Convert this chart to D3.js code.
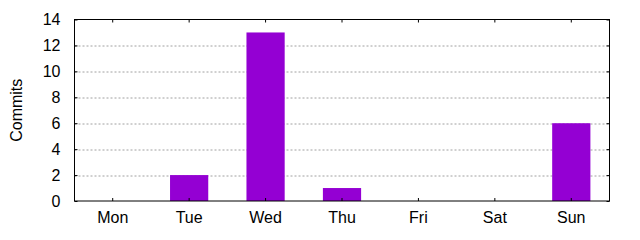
<!DOCTYPE html>
<html>
<head>
<meta charset="utf-8">
<script src="https://d3js.org/d3.v7.min.js"></script>
<style>
  body { margin: 0; background: #fff; }
  svg { display: block; font-family: "Liberation Sans", Arial, sans-serif; }
</style>
</head>
<body>
<div id="chart"></div>
<script>
// commits per weekday
const days = ["Mon", "Tue", "Wed", "Thu", "Fri", "Sat", "Sun"];
const commits = [0, 2, 13, 1, 0, 0, 6];
const yTicks = [0, 2, 4, 6, 8, 10, 12, 14];

const width = 640;
const height = 240;
const margin = {top: 19.5, right: 30.5, bottom: 39, left: 74.5};
const w = width - margin.left - margin.right;
const h = height - margin.top - margin.bottom;

const svg = d3.select("#chart")
  .append("svg")
  .attr("width", width)
  .attr("height", height);

const g = svg.append("g")
  .attr("transform", "translate(" + margin.left + "," + margin.top + ")");

const x = d3.scaleBand()
  .domain(days)
  .range([0, w]);

const y = d3.scaleLinear()
  .domain([0, 14])
  .range([h, 0]);

// grid
g.append("g")
  .selectAll("line")
  .data(yTicks.filter(d => d > 0 && d < 14))
  .enter()
  .append("line")
  .attr("x1", 0)
  .attr("x2", w)
  .attr("y1", d => Math.round(y(d)) + 0.5)
  .attr("y2", d => Math.round(y(d)) + 0.5)
  .attr("stroke", "#a0a0a0")
  .attr("stroke-dasharray", "2,2");

// bars
g.append("g")
  .selectAll("rect")
  .data(days)
  .enter()
  .append("rect")
  .attr("x", d => x(d) + x.bandwidth() / 4)
  .attr("width", x.bandwidth() / 2)
  .attr("y", (d, i) => y(commits[i]))
  .attr("height", (d, i) => h - y(commits[i]))
  .style("fill", "#9400d3");

// axes
g.append("g")
  .attr("transform", "translate(0," + h + ")")
  .call(d3.axisBottom(x).tickSize(-3).tickPadding(11));

g.append("g")
  .call(d3.axisLeft(y).tickValues(yTicks).tickSize(-3).tickPadding(14));

g.append("g")
  .call(d3.axisTop(x).tickSize(-3).tickFormat(""));

g.append("g")
  .attr("transform", "translate(" + w + ",0)")
  .call(d3.axisRight(y).tickValues(yTicks).tickSize(-3).tickFormat(""));

g.selectAll(".domain").remove();
g.selectAll(".tick line").attr("stroke", "#000");
g.selectAll(".tick text")
  .attr("fill", "#000")
  .style("font-size", "16px")
  .style("font-family", "'Liberation Sans', Arial, sans-serif");

// border
g.append("rect")
  .attr("width", w)
  .attr("height", h)
  .attr("fill", "none")
  .attr("stroke", "#000");

// y label
svg.append("text")
  .attr("transform", "translate(22," + (margin.top + h / 2) + ") rotate(-90)")
  .attr("text-anchor", "middle")
  .style("font-size", "16px")
  .text("Commits");
</script>
</body>
</html>
